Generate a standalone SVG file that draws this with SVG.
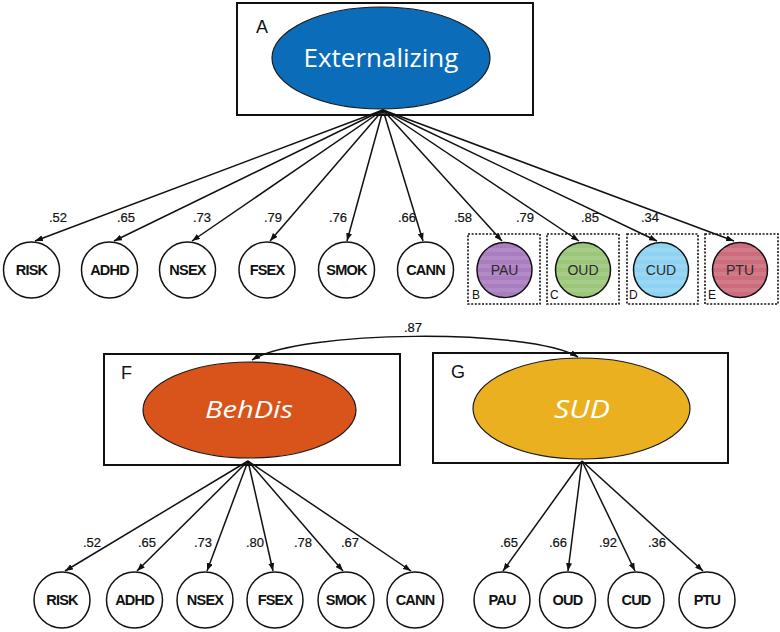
<svg xmlns="http://www.w3.org/2000/svg" width="780" height="632" viewBox="0 0 780 632">
<style>
.box{fill:none;stroke:#111;stroke-width:2}
.lat{stroke:#1a1a1a;stroke-width:1.2}
.lbl{font-family:"Liberation Sans",Arial,sans-serif;font-size:18px;fill:#111}
.latt{font-family:"Open Sans","Noto Sans",sans-serif;fill:#fff;text-anchor:middle}
.obs{fill:#fff;stroke:#111;stroke-width:1.5}
.obst{font-family:"Liberation Sans",Arial,sans-serif;font-size:14.5px;font-weight:bold;letter-spacing:-0.8px;fill:#111;text-anchor:middle}
.colt{font-family:"Liberation Sans",Arial,sans-serif;font-size:14px;fill:#2a2a2a;text-anchor:middle}
.dash{fill:none;stroke:#111;stroke-width:1.6;stroke-dasharray:2 1.6}
.sub{font-family:"Liberation Sans",Arial,sans-serif;font-size:12px;fill:#111}
.num{font-family:"Liberation Sans",Arial,sans-serif;font-size:13px;fill:#111;text-anchor:middle;stroke:#111;stroke-width:0.2}
.ln{fill:none;stroke:#111;stroke-width:1.5;marker-end:url(#ah)}
</style>
<defs>
<marker id="ah" viewBox="0 0 8 6" refX="8" refY="3" markerWidth="8" markerHeight="6" markerUnits="userSpaceOnUse" orient="auto-start-reverse">
<path d="M0,0 L8,3 L0,6 z" fill="#111"/>
</marker>
<pattern id="stripes" width="10" height="8" patternUnits="userSpaceOnUse">
<rect x="0" y="0" width="10" height="4" fill="#fff" fill-opacity="0.1"/>
</pattern>
</defs>

<g id="connectors">
<path class="ln" d="M383,110 L35,241"/>
<path class="ln" d="M383,110 L114,241"/>
<path class="ln" d="M383,110 L192,241"/>
<path class="ln" d="M383,110 L270,241"/>
<path class="ln" d="M383,110 L347,241"/>
<path class="ln" d="M383,110 L423,241"/>
<path class="ln" d="M383,110 L502,241"/>
<path class="ln" d="M383,110 L579,241"/>
<path class="ln" d="M383,110 L657,241"/>
<path class="ln" d="M383,110 L734,241"/>
<path class="ln" d="M248,461 L65,571"/>
<path class="ln" d="M248,461 L137,571"/>
<path class="ln" d="M248,461 L207,571"/>
<path class="ln" d="M248,461 L273,571"/>
<path class="ln" d="M248,461 L343,571"/>
<path class="ln" d="M248,461 L411,571"/>
<path class="ln" d="M582,461 L503,571"/>
<path class="ln" d="M582,461 L568,571"/>
<path class="ln" d="M582,461 L635,571"/>
<path class="ln" d="M582,461 L703,571"/>
<path class="ln" style="marker-start:url(#ah)" d="M252,360 C300,330 530,328 578,357"/>
<g>
<text class="num" x="58" y="222">.52</text>
<text class="num" x="126" y="222">.65</text>
<text class="num" x="202" y="222">.73</text>
<text class="num" x="273" y="222">.79</text>
<text class="num" x="338" y="222">.76</text>
<text class="num" x="407" y="222">.66</text>
<text class="num" x="463" y="222">.58</text>
<text class="num" x="525" y="222">.79</text>
<text class="num" x="590" y="222">.85</text>
<text class="num" x="650" y="222">.34</text>
<text class="num" x="413" y="332">.87</text>
<text class="num" x="92" y="547">.52</text>
<text class="num" x="147" y="547">.65</text>
<text class="num" x="203" y="547">.73</text>
<text class="num" x="255" y="547">.80</text>
<text class="num" x="303" y="547">.78</text>
<text class="num" x="350" y="547">.67</text>
<text class="num" x="509" y="547">.65</text>
<text class="num" x="558" y="547">.66</text>
<text class="num" x="608" y="547">.92</text>
<text class="num" x="657" y="547">.36</text>
</g>
</g>

<g id="A">
<rect class="box" x="237" y="3" width="296" height="112"/>
<text class="lbl" x="256" y="33">A</text>
<ellipse class="lat" cx="381" cy="58" rx="109" ry="51" fill="#0B6DBA"/>
<text class="latt" x="381" y="67" font-size="26">Externalizing</text>
</g>

<g id="F">
<rect class="box" x="104" y="354" width="296" height="111"/>
<text class="lbl" x="121" y="379">F</text>
<ellipse class="lat" cx="249.5" cy="410" rx="106.5" ry="48" fill="#D9541B"/>
<text class="latt" x="249" y="418" font-size="23" font-style="italic" textLength="88" lengthAdjust="spacingAndGlyphs">BehDis</text>
</g>

<g id="G">
<rect class="box" x="433" y="353" width="295" height="110"/>
<text class="lbl" x="451" y="378">G</text>
<ellipse class="lat" cx="581.5" cy="408.5" rx="108.5" ry="50.5" fill="#EAB020"/>
<text class="latt" x="582" y="418" font-size="25" font-style="italic" textLength="56" lengthAdjust="spacingAndGlyphs">SUD</text>
</g>

<g id="top-indicators">
<g id="t-risk"><circle class="obs" cx="31.5" cy="270" r="28"/><text class="obst" x="31.5" y="275">RISK</text></g>
<g id="t-adhd"><circle class="obs" cx="109.5" cy="270" r="28"/><text class="obst" x="109.5" y="275">ADHD</text></g>
<g id="t-nsex"><circle class="obs" cx="187.5" cy="270" r="28"/><text class="obst" x="187.5" y="275">NSEX</text></g>
<g id="t-fsex"><circle class="obs" cx="267" cy="270" r="28"/><text class="obst" x="267" y="275">FSEX</text></g>
<g id="t-smok"><circle class="obs" cx="346.5" cy="270" r="28"/><text class="obst" x="346.5" y="275">SMOK</text></g>
<g id="t-cann"><circle class="obs" cx="425.5" cy="270" r="28"/><text class="obst" x="425.5" y="275">CANN</text></g>
</g>

<g id="B">
<rect class="dash" x="468" y="234" width="72" height="70"/>
<circle cx="504.5" cy="270" r="27.5" fill="#A97DC0" stroke="#111" stroke-width="1.5"/>
<circle cx="504.5" cy="270" r="26.8" fill="url(#stripes)"/>
<text class="colt" x="504.5" y="275">PAU</text>
<text class="sub" x="472" y="299">B</text>
</g>
<g id="C">
<rect class="dash" x="547" y="234" width="72" height="70"/>
<circle cx="583" cy="270" r="27.5" fill="#9CC77A" stroke="#111" stroke-width="1.5"/>
<circle cx="583" cy="270" r="26.8" fill="url(#stripes)"/>
<text class="colt" x="583" y="275">OUD</text>
<text class="sub" x="550" y="299">C</text>
</g>
<g id="D">
<rect class="dash" x="627" y="234" width="71" height="70"/>
<circle cx="661" cy="270" r="27.5" fill="#8FD3F2" stroke="#111" stroke-width="1.5"/>
<circle cx="661" cy="270" r="26.8" fill="url(#stripes)"/>
<text class="colt" x="661" y="275">CUD</text>
<text class="sub" x="629" y="299">D</text>
</g>
<g id="E">
<rect class="dash" x="705" y="234" width="73" height="70"/>
<circle cx="740" cy="270" r="27.5" fill="#CC6C7C" stroke="#111" stroke-width="1.5"/>
<circle cx="740" cy="270" r="26.8" fill="url(#stripes)"/>
<text class="colt" x="740" y="275">PTU</text>
<text class="sub" x="708" y="299">E</text>
</g>

<g id="bottom-indicators">
<g id="b-risk"><circle class="obs" cx="62" cy="600" r="28"/><text class="obst" x="62" y="605">RISK</text></g>
<g id="b-adhd"><circle class="obs" cx="134.5" cy="600" r="28"/><text class="obst" x="134.5" y="605">ADHD</text></g>
<g id="b-nsex"><circle class="obs" cx="205" cy="600" r="28"/><text class="obst" x="205" y="605">NSEX</text></g>
<g id="b-fsex"><circle class="obs" cx="275" cy="600" r="28"/><text class="obst" x="275" y="605">FSEX</text></g>
<g id="b-smok"><circle class="obs" cx="346" cy="600" r="28"/><text class="obst" x="346" y="605">SMOK</text></g>
<g id="b-cann"><circle class="obs" cx="415" cy="600" r="28"/><text class="obst" x="415" y="605">CANN</text></g>
<g id="b-pau"><circle class="obs" cx="502" cy="600" r="28"/><text class="obst" x="502" y="605">PAU</text></g>
<g id="b-oud"><circle class="obs" cx="567.5" cy="600" r="28"/><text class="obst" x="567.5" y="605">OUD</text></g>
<g id="b-cud"><circle class="obs" cx="636" cy="600" r="28"/><text class="obst" x="636" y="605">CUD</text></g>
<g id="b-ptu"><circle class="obs" cx="707" cy="600" r="28"/><text class="obst" x="707" y="605">PTU</text></g>
</g>
</svg>
